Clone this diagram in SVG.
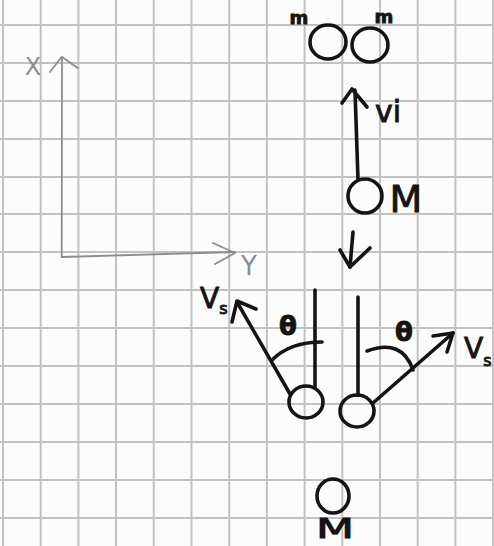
<svg xmlns="http://www.w3.org/2000/svg" width="494" height="546" viewBox="0 0 494 546">
<style>
.grid{stroke:#c2c2c2;stroke-width:2;fill:none}
.ink{stroke:#141414;stroke-width:3.6;fill:none;stroke-linecap:round;stroke-linejoin:round}
.axis{stroke:#8c8c8c;stroke-width:1.8;fill:none;stroke-linecap:round;stroke-linejoin:round}
.lbl{font-family:"DejaVu Sans",sans-serif;fill:#141414;stroke:#141414;stroke-width:0.9}
.glbl{font-family:"DejaVu Sans",sans-serif;fill:#8c8c8c}
</style>
<rect width="494" height="546" fill="#fcfcfc"/>
<g id="grid" class="grid">
<path d="M3,0V546M40.7,0V546M78.4,0V546M116,0V546M153.8,0V546M191.5,0V546M229.2,0V546M266.9,0V546M304.6,0V546M342.3,0V546M380,0V546M417.7,0V546M455.4,0V546M493,0V546"/>
<path d="M0,25H494M0,63H494M0,101H494M0,139H494M0,177H494M0,214H494M0,252H494M0,290H494M0,328H494M0,366H494M0,404H494M0,442H494M0,480H494M0,518H494"/>
</g>
<g id="axes">
<path class="axis" d="M62,58 L61.7,257 L235,252"/>
<path class="axis" d="M50,72 L61.7,56.7 L77.7,68"/>
<path class="axis" d="M213,243 L235,253 L215,264"/>
<text class="glbl" x="33" y="75" font-size="24" text-anchor="middle">X</text>
<text class="glbl" x="249" y="275" font-size="26" text-anchor="middle">Y</text>
</g>
<g id="node-m-left">
<ellipse class="ink" cx="328" cy="42" rx="18" ry="17"/>
<text class="lbl" x="299" y="24" font-size="18" font-weight="bold" text-anchor="middle">m</text>
</g>
<g id="node-m-right">
<ellipse class="ink" cx="370" cy="45" rx="18" ry="17"/>
<text class="lbl" x="384" y="23" font-size="18" font-weight="bold" text-anchor="middle">m</text>
</g>
<g id="node-M-top">
<circle class="ink" cx="365" cy="196" r="17"/>
<text class="lbl" x="406" y="212" font-size="38" text-anchor="middle">M</text>
</g>
<g id="node-left-ball">
<ellipse class="ink" cx="306" cy="402" rx="17" ry="16"/>
</g>
<g id="node-right-ball">
<ellipse class="ink" cx="357" cy="411" rx="17" ry="16"/>
</g>
<g id="node-M-bottom">
<ellipse class="ink" cx="333" cy="496" rx="16" ry="17"/>
<text class="lbl" x="316" y="538" font-size="27" textLength="38" lengthAdjust="spacingAndGlyphs">M</text>
</g>
<g id="connectors">
<path class="ink" d="M358,180 L355,90"/>
<path class="ink" d="M342,103 L352,89 L367,107"/>
<text class="lbl" x="388" y="122" font-size="30" text-anchor="middle">vi</text>
<path class="ink" d="M353,232 L350,267"/>
<path class="ink" d="M340,250 L350,267 L370,248"/>
<path class="ink" d="M315,290 L315,387"/>
<path class="ink" d="M358,297 L358,395"/>
<path class="ink" d="M290,394 L237,302"/>
<path class="ink" d="M232,322 L237,301 L256,309"/>
<path class="ink" d="M373,403 L453,333"/>
<path class="ink" d="M433,336 L453,333 L447,352"/>
<path class="ink" d="M272,360 Q290,342 322,342"/>
<path class="ink" d="M367,351 Q402,338 413,370"/>
<text class="lbl" x="288" y="335" font-size="26" font-weight="bold" text-anchor="middle">θ</text>
<text class="lbl" x="404" y="341" font-size="26" font-weight="bold" text-anchor="middle">θ</text>
<text class="lbl" x="200" y="308" font-size="28">V<tspan font-size="16" dy="6">s</tspan></text>
<text class="lbl" x="464" y="358" font-size="28">V<tspan font-size="16" dy="8">s</tspan></text>
</g>
</svg>
